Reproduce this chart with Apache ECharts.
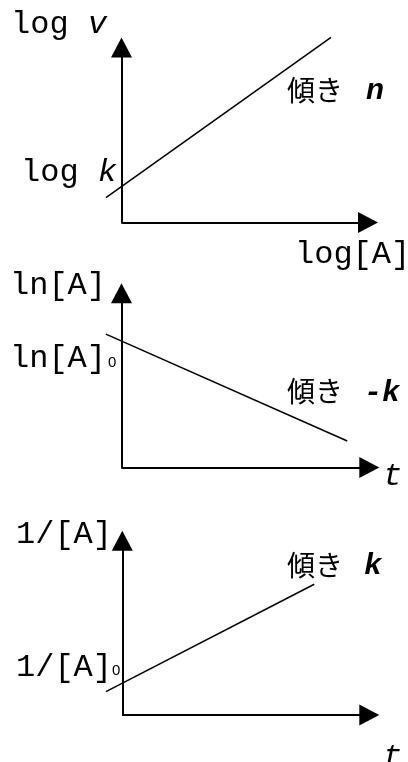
<!DOCTYPE html>
<html lang="ja">
<head>
    <meta charset="UTF-8">
    <title>反応次数のプロット</title>
    <script src="https://cdn.jsdelivr.net/npm/echarts@6.0.0/dist/echarts.min.js"></script>
    <style>
        * { margin: 0; padding: 0; box-sizing: border-box; }
        html, body { width: 100%; height: 100%; overflow: hidden; background: #fff; }
        #chart { width: 408px; height: 762px; }
    </style>
</head>
<body>
    <div id="chart"></div>
    <script>
        // 各グラフの直線 (軸の単位: x は -1〜10, y は 0〜10)
        const rateX = [-0.63, 8.50];        // log[A]
        const rateY = [1.42, 10.58];        // log v
        const firstX = [-0.63, 9.11];       // t
        const firstY = [7.66, 1.52];        // ln[A]
        const secondX = [-0.66, 7.77];      // t
        const secondY = [1.34, 7.50];       // 1/[A]

        // ラベル
        const yTitles = ['log ', 'ln[A]', '1/[A]'];
        const yTitleVars = ['v', '', ''];
        const xTitles = ['log[A]', 't', 't'];
        const interceptTexts = ['log ', 'ln[A]', '1/[A]'];
        const interceptVars = ['k', '', ''];
        const interceptSubs = ['', '0', '0'];
        const slopeWord = '傾き';
        const slopeVars = ['n', '-k', 'k'];

        const MONO = '"Liberation Mono", monospace';
        const CJK = '"Noto Sans CJK JP", sans-serif';

        const pairs = (xs, ys) => xs.map((x, i) => [x, ys[i]]);

        // グリッド (x = -1 から 10, y 軸は x = 0 の位置)
        const grids = [
            { left: 96.85, top: 47.5, width: 271.15, height: 175 },
            { left: 96.72, top: 293.3, width: 272.6, height: 174.2 },
            { left: 97.6, top: 540.7, width: 271.7, height: 174.3 }
        ];

        const arrowLine = {
            show: true,
            onZero: true,
            symbol: ['none', 'triangle'],
            symbolSize: [21, 20],
            lineStyle: { color: '#000', width: 2 }
        };

        const hidden = {
            axisTick: { show: false },
            axisLabel: { show: false },
            splitLine: { show: false }
        };

        const xAxes = grids.map((g, i) => Object.assign({
            type: 'value', gridIndex: i, min: -1, max: 10,
            axisLine: { show: false }
        }, hidden));
        const yAxes = grids.map((g, i) => Object.assign({
            type: 'value', gridIndex: i, min: 0, max: 10,
            axisLine: arrowLine
        }, hidden));

        const lines = [pairs(rateX, rateY), pairs(firstX, firstY), pairs(secondX, secondY)];

        // 横軸は y = 0 の線 (矢印付き)
        const baseAxisLine = {
            silent: true,
            symbol: ['none', 'triangle'],
            symbolSize: [21, 20],
            label: { show: false },
            lineStyle: { color: '#000', width: 2, type: 'solid' },
            emphasis: { disabled: true },
            data: [[{ coord: [0, 0] }, { coord: [10, 0] }]]
        };

        const monoRich = {
            r: { fontFamily: MONO, fontSize: 32, fill: '#000' },
            i: { fontFamily: MONO, fontSize: 32, fontStyle: 'italic', fill: '#000' }
        };

        function monoText(x, y, plain, italic) {
            return {
                type: 'text', x: x, y: y,
                style: {
                    text: '{r|' + plain + '}' + (italic ? '{i|' + italic + '}' : ''),
                    rich: monoRich,
                    verticalAlign: 'middle'
                }
            };
        }
        function plainText(x, y, text, font) {
            return {
                type: 'text', x: x, y: y,
                style: Object.assign({ text: text, fill: '#000', verticalAlign: 'middle' }, font)
            };
        }
        const slopeFont = { fontFamily: MONO, fontSize: 30, fontStyle: 'italic', fontWeight: 'bold' };
        const cjkFont = { fontFamily: CJK, fontSize: 28 };
        const subFont = { fontFamily: '"Liberation Sans", sans-serif', fontSize: 15 };
        const varFont = { fontFamily: MONO, fontSize: 32, fontStyle: 'italic' };

        const graphic = [
            // 1段目
            monoText(11, 24.5, yTitles[0], yTitleVars[0]),
            monoText(21, 173, interceptTexts[0], interceptVars[0]),
            monoText(295, 255, xTitles[0], ''),
            plainText(287, 90, slopeWord, cjkFont),
            plainText(366, 91, slopeVars[0], slopeFont),
            // 2段目
            monoText(10, 286, yTitles[1], yTitleVars[1]),
            monoText(10, 359, interceptTexts[1], interceptVars[1]),
            plainText(108, 362.5, interceptSubs[1], subFont),
            plainText(287, 391.5, slopeWord, cjkFont),
            plainText(364, 393.7, slopeVars[1], slopeFont),
            plainText(383, 476.5, xTitles[1], varFont),
            // 3段目
            monoText(16, 535, yTitles[2], yTitleVars[2]),
            monoText(16, 667.5, interceptTexts[2], interceptVars[2]),
            plainText(112, 671, interceptSubs[2], subFont),
            plainText(287, 565.3, slopeWord, cjkFont),
            plainText(364, 566, slopeVars[2], slopeFont),
            plainText(383, 758, xTitles[2], varFont)
        ];

        const chart = echarts.init(document.getElementById('chart'));
        chart.setOption({
            backgroundColor: '#fff',
            animation: false,
            grid: grids,
            xAxis: xAxes,
            yAxis: yAxes,
            series: lines.map((d, i) => ({
                type: 'line',
                xAxisIndex: i,
                yAxisIndex: i,
                data: d,
                clip: false,
                symbol: 'none',
                silent: true,
                lineStyle: { color: '#000', width: 1.5 },
                markLine: baseAxisLine
            })),
            graphic: graphic
        });
    </script>
</body>
</html>
